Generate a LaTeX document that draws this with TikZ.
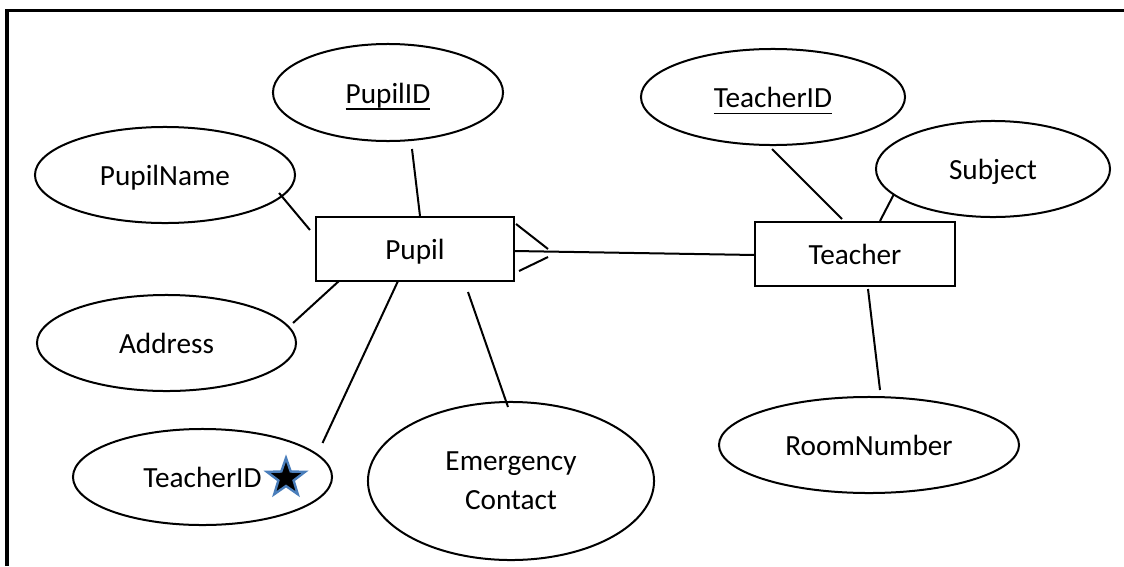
\documentclass[tikz,border=0pt]{standalone}
\usepackage{fontspec}
\setmainfont{Carlito}
\usetikzlibrary{shapes.geometric}
\definecolor{starblue}{HTML}{4A7EBB}
\newcommand\keyattr[1]{\setbox0\hbox{#1}\rlap{\rule[-0.17cm]{\wd0}{0.038cm}}\box0}
\begin{document}
\begin{tikzpicture}[x=0.025cm,y=-0.025cm,
  oneline/.style={text height=0.58cm, text depth=0.055cm},
  attrshape/.style={ellipse, draw, line width=0.05cm, inner sep=0pt, outer sep=0pt, align=center, minimum height=2.4cm},
  attr/.style={attrshape, oneline},
  entity/.style={rectangle, draw, line width=0.055cm, inner sep=0pt, outer sep=0pt, minimum height=1.6cm, oneline},
  link/.style={line width=0.05cm},
  font=\fontsize{20.8}{28}\selectfont]
\useasboundingbox (0,0) rectangle (1124,566);
% frame (top and left only visible)
\draw[line width=0.075cm] (7,566) -- (7,10) -- (1124,10);

% Pupil side
\node[entity, minimum width=4.95cm] (pupil) at (415,249) {Pupil};
\node[attr, minimum width=5.75cm, minimum height=2.425cm] (pupilid) at (388,92.5) {\keyattr{PupilID}};
\node[attr, minimum width=6.5cm] (pupilname) at (165,175) {PupilName};
\node[attr, minimum width=6.475cm] (address) at (166.5,343) {Address};
\node[attr, minimum width=6.475cm] (tidfk) at (202.5,477) {TeacherID};
\node[star, star points=5, star point ratio=2.5, minimum size=1.0cm, inner sep=0pt,
      fill=black, draw=starblue, line width=0.06cm] (fkstar) at (286,478) {};
\node[attrshape, minimum width=7.15cm, minimum height=3.95cm] (emergency) at (511,481) {Emergency\\Contact};

% Teacher side
\node[entity, minimum width=5.0cm] (teacher) at (855,254) {Teacher};
\node[attr, minimum width=6.6cm] (tidpk) at (773,97) {\keyattr{TeacherID}};
\node[attr, minimum width=5.85cm] (subject) at (993,169) {Subject};
\node[attr, minimum width=7.5cm] (room) at (869,445) {RoomNumber};

% connectors
\draw[link] ([shift={(24,8)}]pupilid.south) -- ([shift={(5,-1)}]pupil.north);
\draw[link] ([shift={(-16,18)}]pupilname.east) -- ([shift={(-6,13)}]pupil.north west);
\draw[link] ([shift={(-3,-20)}]address.east) -- ([shift={(23,0)}]pupil.south west);
\draw[link] ([shift={(-9.5,-34)}]tidfk.east) -- ([shift={(-17,0)}]pupil.south);
\draw[link] ([shift={(-3,5)}]emergency.north) -- ([shift={(53,11)}]pupil.south);

% relationship with crow's foot at Pupil
\draw[link] ([shift={(0,2)}]pupil.east) -- ([shift={(0,1)}]teacher.west);
\draw[link] ([shift={(2,-25)}]pupil.east) -- ([shift={(34,0)}]pupil.east);
\draw[link] ([shift={(5,22)}]pupil.east) -- ([shift={(34,8)}]pupil.east);

\draw[link] ([shift={(-1,4)}]tidpk.south) -- ([shift={(-13,-3)}]teacher.north);
\draw[link] ([shift={(-99.5,26)}]subject.center) -- ([shift={(25,-1)}]teacher.north);
\draw[link] ([shift={(13,3)}]teacher.south) -- ([shift={(11,-7)}]room.north);
\end{tikzpicture}
\end{document}
